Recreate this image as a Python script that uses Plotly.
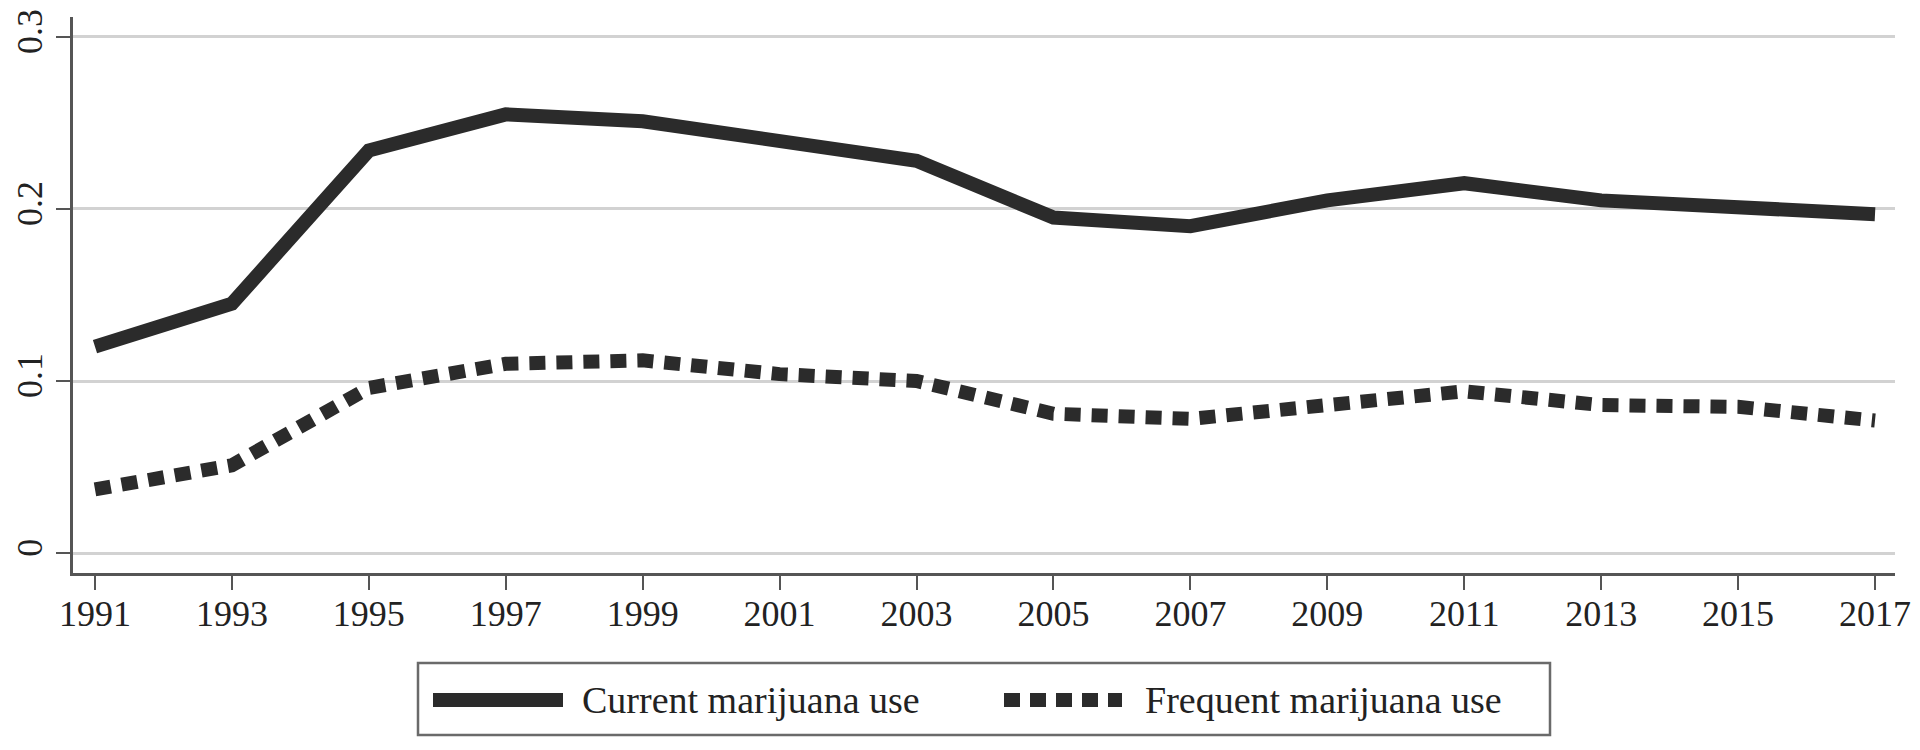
import plotly.graph_objects as go

years = [1991, 1993, 1995, 1997, 1999, 2001, 2003, 2005, 2007, 2009, 2011, 2013, 2015, 2017]
current_use = [0.120, 0.145, 0.234, 0.255, 0.251, 0.240, 0.228, 0.195, 0.190, 0.205, 0.215, 0.205, 0.202, 0.197]
frequent_use = [0.037, 0.051, 0.096, 0.110, 0.112, 0.104, 0.100, 0.081, 0.078, 0.086, 0.094, 0.086, 0.085, 0.077]
series_names = ["Current marijuana use", "Frequent marijuana use"]
y_tickvals = [0, 0.1, 0.2, 0.3]
y_ticktext = ["0", "0.1", "0.2", "0.3"]
x_tickvals = years

# The page body has an 8px default margin; size the figure so it fills the 1920x750 window.
BODY = 8
W, H = 1920 - BODY, 750 - BODY
# plot area in page pixels
PL, PR, PT, PB = 73, 1895, 17, 573
ML, MR, MT, MB = PL - BODY, 1920 - PR, PT - BODY, 750 - PB
PW, PH = PR - PL, PB - PT

FONT = "Liberation Serif"
LINE_COLOR = "#2b2b2b"
AXIS_COLOR = "#555555"
GRID_COLOR = "#d2d2d2"

def px_x(px):
    return (px - PL) / PW

def px_y(py):
    return (PB - py) / PH

fig = go.Figure()
fig.add_trace(go.Scatter(x=years, y=current_use, mode="lines", name=series_names[0],
                         line=dict(color=LINE_COLOR, width=14), showlegend=False))
fig.add_trace(go.Scatter(x=years, y=frequent_use, mode="lines", name=series_names[1],
                         line=dict(color=LINE_COLOR, width=14, dash="16px,11px"), showlegend=False))

# Legend box (manual, to match long sample lines)
shapes = [
    dict(type="rect", xref="paper", yref="paper",
         x0=px_x(418), x1=px_x(1550), y0=px_y(735), y1=px_y(663),
         line=dict(color="#6a6a6a", width=2.5), fillcolor="rgba(0,0,0,0)"),
    dict(type="line", xref="paper", yref="paper",
         x0=px_x(433), x1=px_x(563), y0=px_y(700), y1=px_y(700),
         line=dict(color=LINE_COLOR, width=14)),
    dict(type="line", xref="paper", yref="paper",
         x0=px_x(1004), x1=px_x(1122), y0=px_y(700), y1=px_y(700),
         line=dict(color=LINE_COLOR, width=14, dash="16px,10px")),
]
annotations = [
    dict(xref="paper", yref="paper", x=px_x(580), y=px_y(700), text=series_names[0],
         showarrow=False, xanchor="left", yanchor="middle",
         font=dict(family=FONT, size=38, color="#222222")),
    dict(xref="paper", yref="paper", x=px_x(1143), y=px_y(700), text=series_names[1],
         showarrow=False, xanchor="left", yanchor="middle",
         font=dict(family=FONT, size=38, color="#222222")),
]

fig.update_layout(
    width=W, height=H,
    margin=dict(l=ML, r=MR, t=MT, b=MB, pad=0, autoexpand=False),
    paper_bgcolor="white", plot_bgcolor="white",
    shapes=shapes, annotations=annotations,
    showlegend=False,
    font=dict(family=FONT, size=36, color="#222222"),
)
fig.update_xaxes(
    range=[1990.679, 2017.292], tickmode="array", tickvals=x_tickvals,
    showgrid=False, zeroline=False, automargin=False,
    showline=True, linecolor=AXIS_COLOR, linewidth=3,
    ticks="outside", ticklen=14, tickwidth=2, tickcolor=AXIS_COLOR,
    ticklabelstandoff=-7, ticklabeloverflow="allow",
    tickfont=dict(family=FONT, size=36, color="#222222"),
)
fig.update_yaxes(
    range=[-0.0116, 0.3116], tickmode="array", tickvals=y_tickvals, ticktext=y_ticktext,
    showgrid=True, gridcolor=GRID_COLOR, gridwidth=3, zeroline=False, automargin=False,
    showline=True, linecolor=AXIS_COLOR, linewidth=3,
    ticks="outside", ticklen=14, tickwidth=2, tickcolor=AXIS_COLOR,
    tickangle=-90, ticklabeloverflow="allow",
    tickfont=dict(family=FONT, size=36, color="#222222"),
)

fig.write_html("out.html")
